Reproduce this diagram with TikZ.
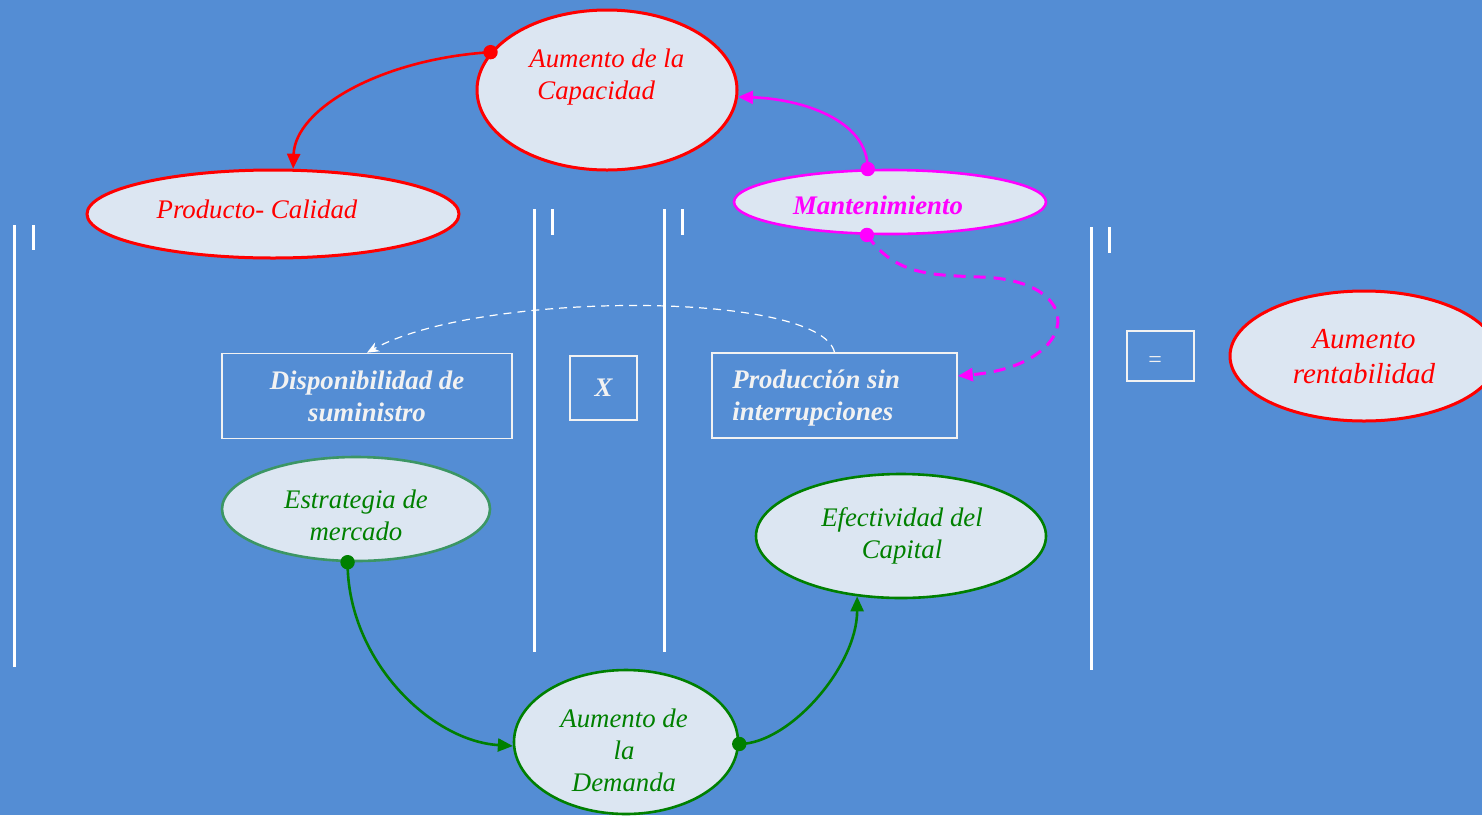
\documentclass[tikz,border=0pt]{standalone}
\usepackage{fontspec}
\setmainfont{Liberation Serif}
\usetikzlibrary{arrows.meta,shapes.geometric}
\definecolor{bgblue}{RGB}{84,141,212}
\definecolor{bubblefill}{RGB}{220,230,242}
\definecolor{dgreen}{RGB}{0,128,0}
\definecolor{sgreen}{RGB}{60,150,100}
\definecolor{offwhite}{RGB}{242,242,242}
\definecolor{pmagenta}{RGB}{255,0,255}
\definecolor{pred}{RGB}{255,0,0}
\begin{document}
\begin{tikzpicture}[x=0.5pt,y=-0.5pt,
  bubble/.style={ellipse, draw, fill=bubblefill, inner sep=0pt},
  framebox/.style={rectangle, draw=offwhite, line width=0.8pt, inner sep=0pt},
  lbl/.style={font=\fontsize{13.4}{16}\selectfont\itshape, align=center, inner sep=0pt},
  blbl/.style={font=\fontsize{13.4}{16}\selectfont\bfseries\itshape, align=center, inner sep=0pt},
  bar/.style={draw=white, line width=1.5pt},
  link/.style={line width=1.3pt, -{Triangle[length=7.5pt,width=6.5pt]}},
  knob/.style={radius=3.6pt}]

% background and frame
\fill[bgblue] (0,0) rectangle (1482,815);
\useasboundingbox (0,0) rectangle (1482,815);
\clip (0,0) rectangle (1482,815);

% vertical separators with their short ticks
\draw[bar] (14,225) -- (14,667);    \draw[bar] (33,225) -- (33,250);
\draw[bar] (534,209) -- (534,652);  \draw[bar] (552,209) -- (552,235);
\draw[bar] (664,209) -- (664,652);  \draw[bar] (682,209) -- (682,235);
\draw[bar] (1091,227) -- (1091,670);\draw[bar] (1109,227) -- (1109,253);

% ellipses
\node[bubble, draw=pred, line width=1.5pt, minimum width=130pt, minimum height=80pt] (cap) at (607,90) {};
\node[lbl, text=pred, align=left, anchor=west] at (529,77) {Aumento de la\\\hspace*{4pt}Capacidad};

\node[bubble, draw=pred, line width=1.5pt, minimum width=186pt, minimum height=44pt] (prod) at (273,214) {};
\node[lbl, text=pred] at (257,209) {Producto- Calidad};

\node[bubble, draw=pmagenta, line width=1.3pt, minimum width=156pt, minimum height=32pt] (mant) at (890,202) {};
\node[blbl, text=pmagenta] at (878,205) {Mantenimiento};

\node[bubble, draw=pred, line width=1.5pt, minimum width=134pt, minimum height=65pt] (rent) at (1364,356) {};
\node[lbl, text=pred, font=\fontsize{14.5}{17.5}\selectfont\itshape] at (1364,357) {Aumento\\rentabilidad};

\node[bubble, draw=sgreen, line width=1.3pt, minimum width=134pt, minimum height=52pt] (estr) at (356,509) {};
\node[lbl, text=dgreen] at (356,515) {Estrategia de\\mercado};

\node[bubble, draw=dgreen, line width=1.3pt, minimum width=145pt, minimum height=62pt] (efec) at (901,536) {};
\node[lbl, text=dgreen] at (902,536) {Efectividad del\\Capital};

\node[bubble, draw=dgreen, line width=1.3pt, minimum width=112pt, minimum height=72pt] (dem) at (626,742) {};
\node[lbl, text=dgreen] at (624,750) {Aumento de\\la\\Demanda};

% white framed boxes
\node[framebox, minimum width=145pt, minimum height=42.5pt, blbl, text=offwhite] (dbox) at (367,396) {Disponibilidad de\\suministro};
\node[framebox, minimum width=33.5pt, minimum height=32pt, blbl, text=offwhite] (xbox) at (603.5,388) {X};
\node[framebox, minimum width=122.5pt, minimum height=42.5pt] (pbox) at (834.5,395.5) {};
\node[blbl, text=offwhite, align=left, anchor=west] at (732,398) {Producción sin\\interrupciones};
\node[framebox, minimum width=33.5pt, minimum height=25pt] (eqbox) at (1160.5,356) {};
\node[inner sep=0pt, text=offwhite, font=\fontsize{12}{14}\selectfont] at (1155,362) {=};

% connectors
\draw[link, pred]
  (cap.162.6) .. controls +(-110,7) and +(2,-60) .. (prod.66);
\fill[pred] (cap.162.6) circle[knob];

\draw[link, pmagenta]
  (mant.124.5) .. controls +(0,-50) and +(62,2) .. (cap.-3.5);
\fill[pmagenta] (mant.124.5) circle[knob];

\draw[link, pmagenta, line width=1.5pt, dash pattern=on 6pt off 4pt]
  (mant.235.5) .. controls (895,275) and (930,275) .. (980,277)
  .. controls (1090,280) and (1080,365) .. (pbox.9.5);
\fill[pmagenta] (mant.235.5) circle[knob];

\draw[white, line width=0.6pt, dash pattern=on 4pt off 3pt, -{Stealth[length=6pt,width=5pt]}]
  (pbox.north) .. controls +(-15,-62) and +(111,-62) .. (dbox.north);

\draw[link, dgreen]
  (estr.261.3) .. controls +(0,98) and +(-82,-5) .. (dem.182);
\fill[dgreen] (estr.261.3) circle[knob];

\draw[link, dgreen]
  (dem.-1.5) .. controls +(50,0) and +(0,70) .. (efec.234);
\fill[dgreen] (dem.-1.5) circle[knob];
\end{tikzpicture}
\end{document}
